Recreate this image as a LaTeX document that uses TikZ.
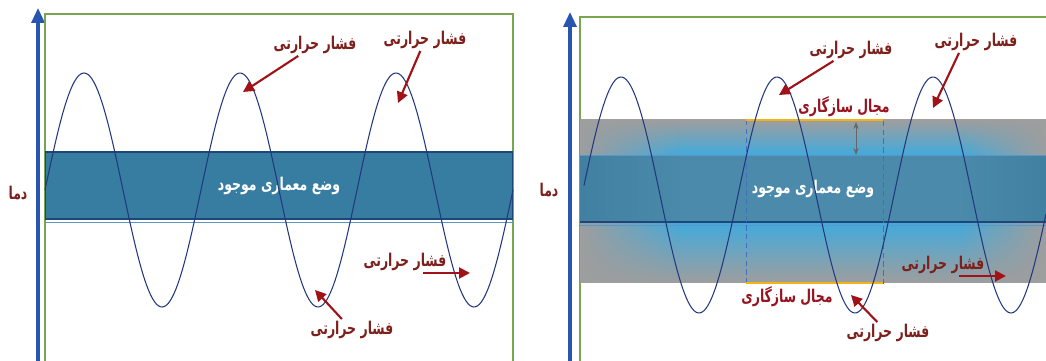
\documentclass[tikz,border=0pt]{standalone}
\usepackage{fontspec}
\usetikzlibrary{arrows.meta,calc,fadings}
\newfontfamily\fa[Script=Arabic, FakeStretch=0.71]{DejaVu Sans}
\TeXXeTstate=1
\definecolor{axb}{RGB}{40,85,175}
\definecolor{frg}{RGB}{120,165,80}
\definecolor{bnd}{RGB}{55,125,162}
\definecolor{bne}{RGB}{30,70,120}
\definecolor{bnl}{RGB}{90,150,200}
\definecolor{wv}{RGB}{35,55,125}
\definecolor{c1}{RGB}{125,32,28}
\definecolor{c2}{RGB}{160,18,24}
\definecolor{c3}{RGB}{150,20,32}
\definecolor{gry}{RGB}{158,158,158}
\definecolor{cyn}{RGB}{65,170,220}
\definecolor{org}{RGB}{240,180,20}
\definecolor{dsh}{RGB}{70,110,190}
\newcommand{\Fh}{\beginR فشار حرارتی\endR}
\newcommand{\Ms}{\beginR مجال سازگاری\endR}
\newcommand{\Vm}{\beginR وضع معماری موجود\endR}
\newcommand{\Dm}{\beginR دما\endR}

\begin{document}
\begin{tikzpicture}[
  x=0.02cm, y=-0.02cm,
  lbl/.style={font=\fa\bfseries\fontsize{10}{11}\selectfont, text=c1, inner sep=1pt},
  lbm/.style={lbl, text=c3},
  band/.style={draw=bne, line width=0.6pt, minimum width=9.36cm, minimum height=1.34cm,
               inner sep=0pt, text=white, font=\fa\bfseries\fontsize{10}{11}\selectfont},
  pf/.style={-{Triangle[length=2.2mm, width=2.2mm]}, line width=1.2pt, draw=c2},
  ax/.style={-{Triangle[length=3mm, width=2.6mm]}, line width=1.8pt, draw=axb},
  frm/.style={draw=frg, line width=0.6pt},
  wave/.style={draw=wv, line width=0.6pt}
]
\useasboundingbox (0,0) rectangle (1046,361);

% linkes Bild
\coordinate (ya) at (38,361);
\coordinate (yb) at (38,8);
\draw[ax] (ya) -- (yb);
\node[lbl, text=c1] (d1) at (18,193) {\Dm};
\draw[frm] (45,361) |- (513,14) -- (513,361);

\node[band, fill=bnd] (b1) at (279,185.5) {\Vm};
\draw[bnl, line width=0.5pt] (45,222) -- (513,222);

\draw[wave] plot[domain=45:513, samples=240] (\x, {190-117*sin(360/156*(\x-45))});

\node[lbl] (f1) at (315,45)  {\Fh};
\node[lbl] (f2) at (425,40)  {\Fh};
\node[lbl] (f3) at (405,262) {\Fh};
\node[lbl] (f4) at (352,330) {\Fh};
\coordinate (t1) at (243,92);
\coordinate (t2) at (398,103);
\coordinate (t3) at (470,273);
\coordinate (t4) at (315,290);
\draw[pf] (f1) -- (t1);
\draw[pf] (f2) -- (t2);
\draw[pf] ($(f3.south |- t3)+(18,0)$) -- (t3);
\draw[pf] (f4) -- (t4);

% rechtes Bild
\coordinate (za) at (570,361);
\coordinate (zb) at (570,12);
\draw[ax] (za) -- (zb);
\node[lbl, text=c1] (d2) at (549,190) {\Dm};
\draw[frm] (580,361) |- (1046,17);

% Anpassungsbereich
\shade[top color=gry, bottom color=cyn] (580,120) rectangle (1046,155);
\shade[top color=cyn, bottom color=gry] (580,222) rectangle (1046,283);
\fill[gry, path fading=east] (580,120) rectangle (680,283);
\fill[gry, path fading=west] (960,120) rectangle (1046,283);

\node[band, fill=bnd, fill opacity=0.9, text opacity=1, draw=none, minimum width=9.32cm] (b2) at (813,188.5) {\Vm};
\draw[bnl, line width=0.5pt] (580,155) -- (1046,155);
\draw[bne, line width=0.6pt] (580,222) -- (1046,222);
\draw[bnl, line width=0.5pt] (580,225) -- (1046,225);

\draw[dsh, densely dashed, line width=0.5pt] (746,120) rectangle (883,283);
\draw[org, line width=0.8pt] (746,120) -- (883,120);
\draw[org, line width=0.8pt] (746,283) -- (883,283);
\coordinate (r1) at (856,122);
\coordinate (r2) at (856,155);
\draw[{Stealth[length=1.4mm]}-{Stealth[length=1.4mm]}, draw=gray!80!black, line width=0.5pt] (r1) -- (r2);

\draw[wave] plot[domain=584:1046, samples=240] (\x, {195-118*sin(360/156*(\x-582))});

\node[lbm] (m1) at (844,107) {\Ms};
\node[lbm] (m2) at (787,297) {\Ms};

\node[lbl] (g1) at (851,50)  {\Fh};
\node[lbl] (g2) at (976,42)  {\Fh};
\node[lbl] (g3) at (943,265) {\Fh};
\node[lbl] (g4) at (888,333) {\Fh};
\coordinate (u1) at (779,95);
\coordinate (u2) at (933,108);
\coordinate (u3) at (1006,276);
\coordinate (u4) at (851,295);
\draw[pf] (g1) -- (u1);
\draw[pf] ($(g2.south)+(-17,0)$) -- (u2);
\draw[pf] ($(g3.south |- u3)+(16,0)$) -- (u3);
\draw[pf] (g4) -- (u4);

\end{tikzpicture}
\end{document}
